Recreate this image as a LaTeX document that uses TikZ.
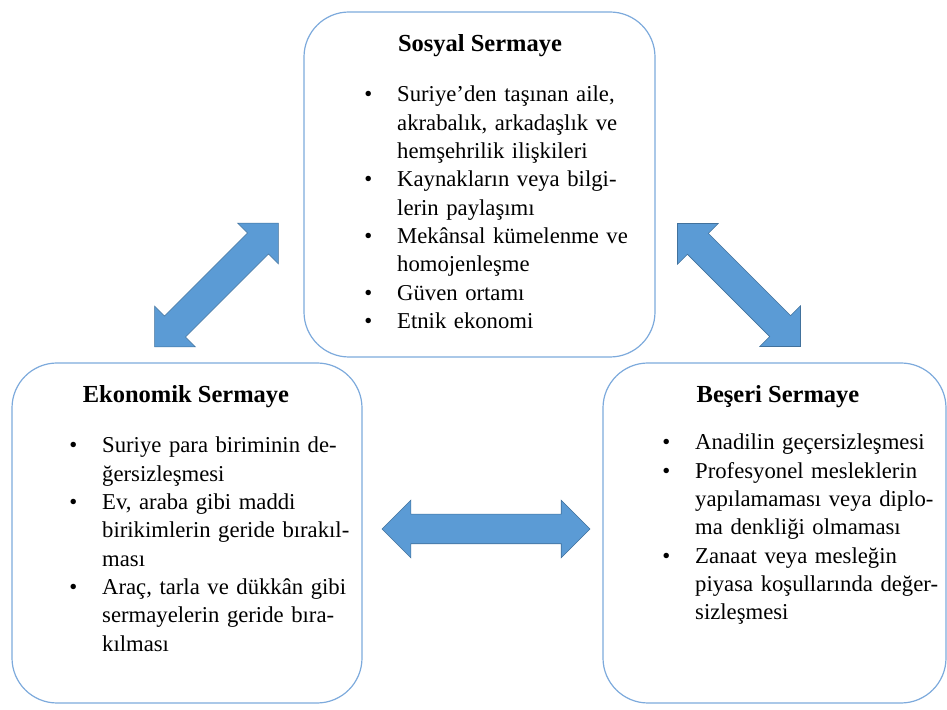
\documentclass[tikz,border=0pt]{standalone}
\usepackage{fontspec}
\setmainfont{Liberation Serif}
\usetikzlibrary{shapes.arrows}
\definecolor{arrowblue}{HTML}{5B9BD5}
\definecolor{arrowedge}{HTML}{41719C}
\definecolor{boxedge}{RGB}{125,170,220}
\newlength{\colw}\setlength{\colw}{240pt}
\newcommand{\jl}[1]{\makebox[\colw][s]{#1}}
\newcommand{\bl}{\makebox[0pt][r]{\textbullet\hspace{25pt}}}
\tikzset{
 capbox/.style={draw=boxedge, line width=1.2pt, rounded corners=45pt, inner sep=0pt},
 captitle/.style={font=\fontsize{24.5}{28}\selectfont\bfseries, inner sep=0pt, anchor=base},
 capitems/.style={font=\fontsize{22.7}{28.3}\selectfont, text width=\colw, align=left, inner sep=0pt, anchor=base west},
 blockarrow/.style={double arrow, fill=arrowblue, draw=arrowedge, line width=0.6pt, inner xsep=0pt, inner ysep=14.5pt, minimum width=57pt, double arrow head extend=14pt},
}
\begin{document}
\begin{tikzpicture}[x=1pt,y=1pt]
\useasboundingbox (0,0) rectangle (947,709);
% boxes
\node[capbox, minimum width=351pt, minimum height=345pt] (sosyal) at (479.5,524.5) {};
\node[capbox, minimum width=350pt, minimum height=340pt] (ekonomik) at (187,176) {};
\node[capbox, minimum width=343pt, minimum height=340pt] (beseri) at (774.5,176) {};
% titles
\node[captitle] (sosyalT) at (480,657) {Sosyal Sermaye};
\node[captitle] (ekonomikT) at (186,306) {Ekonomik Sermaye};
\node[captitle] (beseriT) at (778,306) {Beşeri Sermaye};
% items
\node[capitems] (sosyalI) at (397,607) {%
\bl\jl{Suriye’den taşınan aile,}\\
\jl{akrabalık, arkadaşlık ve}\\
hemşehrilik ilişkileri\\
\bl\jl{Kaynakların veya bilgi-}\\
lerin paylaşımı\\
\bl\jl{Mekânsal kümelenme ve}\\
homojenleşme\\
\bl Güven ortamı\\
\bl Etnik ekonomi};
\node[capitems] (ekonomikI) at (102,256) {%
\bl\jl{Suriye para biriminin de-}\\
ğersizleşmesi\\
\bl\jl{Ev, araba gibi maddi}\\
\jl{birikimlerin geride bırakıl-}\\
ması\\
\bl\jl{Araç, tarla ve dükkân gibi}\\
\jl{sermayelerin geride bıra-}\\
kılması};
\node[capitems] (beseriI) at (695,259) {%
\bl Anadilin geçersizleşmesi\\
\bl\jl{Profesyonel mesleklerin}\\
\jl{yapılamaması veya diplo-}\\
ma denkliği olmaması\\
\bl\jl{Zanaat veya mesleğin}\\
\jl{piyasa koşullarında değer-}\\
sizleşmesi};
% arrows
\node[blockarrow, minimum height=208pt] (arrowEB) at (486,180) {};
\node[blockarrow, minimum height=175pt, rotate=45] (arrowES) at (216.5,424) {};
\node[blockarrow, minimum height=174pt, rotate=-45] (arrowSB) at (739,424) {};
\end{tikzpicture}
\end{document}
